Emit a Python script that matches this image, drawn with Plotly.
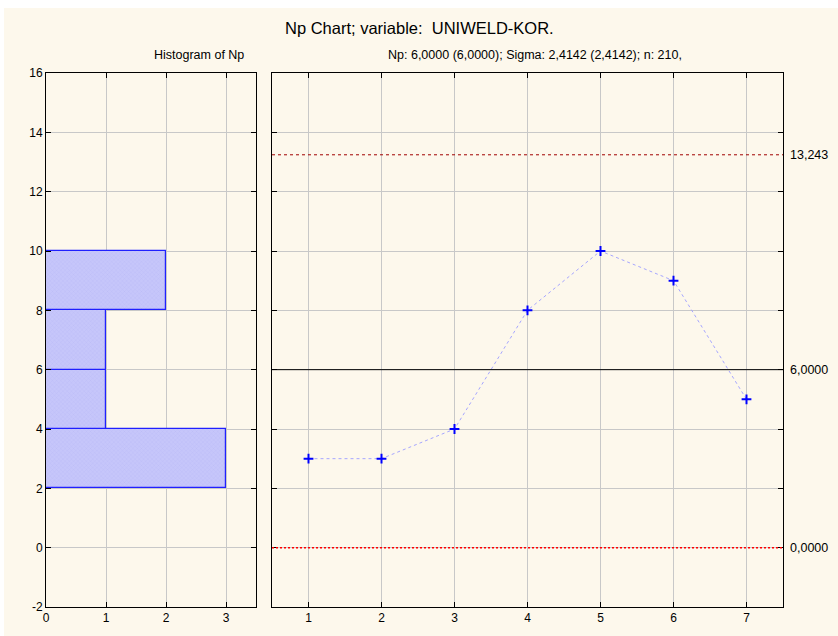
import plotly.graph_objects as go

# Data
samples = [1, 2, 3, 4, 5, 6, 7]
np_values = [3, 3, 4, 8, 10, 9, 5]
hist_bin_centers = [3, 5, 7, 9]
hist_counts = [3, 1, 1, 2]
hist_bin_width = 2
center_line = 6.0
ucl = 13.243
lcl = 0.0
limit_labels = ["0,0000", "6,0000", "13,243"]
y_ticks = [-2, 0, 2, 4, 6, 8, 10, 12, 14, 16]
y_tick_labels = ["-2", "0", "2", "4", "6", "8", "10", "12", "14", "16"]
main_title = "Np Chart; variable:  UNIWELD-KOR."
hist_title = "Histogram of Np"
chart_subtitle = "Np: 6,0000 (6,0000); Sigma: 2,4142 (2,4142); n: 210,"

W, H = 838, 636
FONT = "Liberation Sans, Arial, sans-serif"
GRID = "#c8c8c8"

def px_x(a, b):
    return [a / W, b / W]

def px_y(top, bottom):
    return [(H - bottom) / H, (H - top) / H]

fig = go.Figure()

fig.add_trace(go.Bar(
    y=hist_bin_centers, x=hist_counts, orientation="h", width=hist_bin_width,
    marker=dict(color="#c6c6fa", line=dict(color="#2020ff", width=1.2),
                pattern=dict(shape="x", size=3, solidity=0.15, fgcolor="#a4a4f2")),
    xaxis="x", yaxis="y", showlegend=False,
))

fig.add_trace(go.Scatter(
    x=samples, y=np_values, mode="lines+markers",
    line=dict(color="#a6a6ff", width=1, dash="dot"),
    marker=dict(symbol="cross-thin", size=7, line=dict(color="#0000ff", width=2)),
    xaxis="x2", yaxis="y2", showlegend=False,
))

fig.add_trace(go.Scatter(x=[None], y=[None], xaxis="x2", yaxis="y3", showlegend=False,
                         hoverinfo="skip"))

shapes = [
    dict(type="rect", xref="paper", yref="paper", x0=4 / W, x1=1, y0=0, y1=(H - 8) / H,
         fillcolor="#fdf8ec", line=dict(width=0), layer="below"),
    dict(type="line", xref="x2 domain", yref="y2", x0=0, x1=1, y0=center_line, y1=center_line,
         line=dict(color="#000000", width=1)),
    dict(type="line", xref="x2 domain", yref="y2", x0=0, x1=1, y0=ucl, y1=ucl,
         line=dict(color="#a00000", width=1, dash="dot")),
    dict(type="line", xref="x2 domain", yref="y2", x0=0, x1=1, y0=lcl, y1=lcl,
         line=dict(color="#ff0000", width=1.5, dash="2px,2px")),
]

def axis_common():
    return dict(showline=True, linecolor="#000000", linewidth=1, mirror="ticks",
                ticks="inside", ticklen=5, tickcolor="#000000", automargin=False,
                showgrid=True, gridcolor=GRID, gridwidth=1, zeroline=False,
                tickfont=dict(family=FONT, size=12, color="#000000"))

ydom = px_y(73, 607)

fig.update_layout(
    width=W, height=H,
    margin=dict(l=0, r=0, t=0, b=0, autoexpand=False),
    paper_bgcolor="#ffffff", plot_bgcolor="#ffffff",
    bargap=0,
    xaxis=dict(domain=px_x(46, 256), range=[0, 3.5], dtick=1, **axis_common()),
    yaxis=dict(domain=ydom, range=[-2, 16], tickvals=y_ticks, ticktext=y_tick_labels,
               **axis_common()),
    xaxis2=dict(domain=px_x(272, 783), range=[0.5, 7.5], dtick=1, anchor="y2", **axis_common()),
    yaxis2=dict(domain=ydom, range=[-2, 16], tickvals=y_ticks, anchor="x2",
                showticklabels=False, **axis_common()),
    yaxis3=dict(domain=ydom, range=[-2, 16], overlaying="y2", anchor="x2", side="right",
                tickvals=[lcl, center_line, ucl], ticktext=limit_labels, automargin=False,
                showgrid=False, zeroline=False, showline=False, ticks="", ticklabelstandoff=6,
                tickfont=dict(family=FONT, size=12.5, color="#000000")),
    shapes=shapes,
    annotations=[
        dict(text=main_title, x=419 / W, y=(H - 17) / H, xref="paper", yref="paper",
             showarrow=False, font=dict(family=FONT, size=16.5, color="#000000")),
        dict(text=hist_title, x=152 / W, y=(H - 46) / H, xref="paper", yref="paper",
             showarrow=False, font=dict(family=FONT, size=12.5, color="#000000")),
        dict(text=chart_subtitle, x=535 / W, y=(H - 46) / H, xref="paper", yref="paper",
             showarrow=False, font=dict(family=FONT, size=12.5, color="#000000")),
    ],
)

fig.write_html("out.html", config={"displayModeBar": False},
               post_script="document.body.style.margin='0';")
